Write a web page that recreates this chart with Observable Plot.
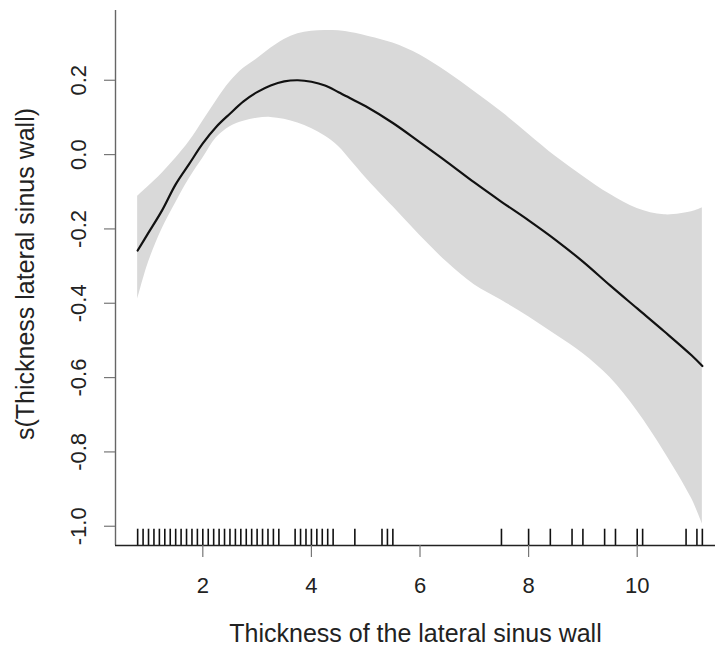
<!DOCTYPE html>
<html>
<head>
<meta charset="utf-8">
<script src="https://cdn.jsdelivr.net/npm/d3@7"></script>
<script src="https://cdn.jsdelivr.net/npm/@observablehq/plot@0.6"></script>
<style>
  html, body { margin: 0; padding: 0; background: #fff; }
  #chart svg { display: block; }
</style>
</head>
<body>
<div id="chart"></div>
<script>
// ---- data ----
const xs    = [0.8, 1.0, 1.25, 1.5, 1.75, 2.0, 2.25, 2.5, 2.75, 3.0, 3.25, 3.5, 3.75, 4.0, 4.25, 4.5, 4.75, 5.0, 5.5, 6.0, 6.5, 7.0, 7.5, 8.0, 8.5, 9.0, 9.5, 10.0, 10.5, 11.0, 11.2];
const fit   = [-0.258, -0.21, -0.15, -0.08, -0.025, 0.03, 0.075, 0.11, 0.143, 0.168, 0.186, 0.197, 0.2, 0.196, 0.186, 0.168, 0.149, 0.13, 0.085, 0.033, -0.02, -0.075, -0.127, -0.177, -0.23, -0.288, -0.352, -0.414, -0.476, -0.54, -0.569];
const upper = [-0.112, -0.085, -0.05, -0.01, 0.035, 0.09, 0.145, 0.195, 0.232, 0.258, 0.286, 0.31, 0.325, 0.332, 0.334, 0.333, 0.328, 0.32, 0.30, 0.268, 0.222, 0.17, 0.115, 0.055, -0.005, -0.058, -0.107, -0.145, -0.162, -0.154, -0.143];
const lower = [-0.39, -0.29, -0.2, -0.13, -0.065, -0.01, 0.045, 0.075, 0.09, 0.098, 0.1, 0.095, 0.085, 0.07, 0.05, 0.022, -0.02, -0.062, -0.14, -0.218, -0.29, -0.35, -0.392, -0.436, -0.485, -0.535, -0.6, -0.69, -0.8, -0.925, -0.994];
const rugValues = [0.8, 0.9, 1.0, 1.1, 1.2, 1.3, 1.4, 1.5, 1.6, 1.7, 1.8, 1.9, 2.0, 2.1, 2.2, 2.3, 2.4, 2.5, 2.6, 2.7, 2.8, 2.9, 3.0, 3.1, 3.2, 3.3, 3.4,
                   3.7, 3.8, 3.9, 4.0, 4.1, 4.2, 4.3, 4.4, 4.8, 5.3, 5.4, 5.5,
                   7.5, 8.0, 8.4, 8.8, 9.0, 9.4, 9.6, 10.0, 10.1, 10.9, 11.1, 11.2];
const xTicks = [2, 4, 6, 8, 10];
const yTicks = [-1.0, -0.8, -0.6, -0.4, -0.2, 0.0, 0.2];
const xTitle = "Thickness of the lateral sinus wall";
const yTitle = "s(Thickness lateral sinus wall)";

const xDomain = [0.392, 11.442];
const yDomain = [-1.0518, 0.3877];

const table = xs.map((x, i) => ({x, fit: fit[i], upper: upper[i], lower: lower[i]}));

const font = "'Liberation Sans', Arial, Helvetica, sans-serif";

const chart = Plot.plot({
  width: 716,
  height: 651,
  marginLeft: 115,
  marginRight: 1,
  marginTop: 10,
  marginBottom: 106,
  style: {fontFamily: font, background: "#fff"},
  x: {domain: xDomain, axis: null},
  y: {domain: yDomain, axis: null},
  marks: [
    Plot.areaY(table, {x: "x", y1: "lower", y2: "upper", fill: "#d9d9d9", curve: "catmull-rom"}),
    Plot.line(table, {x: "x", y: "fit", stroke: "#111", strokeWidth: 2.2, curve: "catmull-rom"}),
    // rug
    Plot.ruleX(rugValues, {x: d => d, y1: yDomain[0], y2: -1.008, stroke: "#111", strokeWidth: 1.6}),
    // axis lines
    Plot.ruleX([xDomain[0]], {y1: yDomain[0], y2: yDomain[1], stroke: "#666", strokeWidth: 1.4}),
    Plot.ruleY([yDomain[0]], {x1: xDomain[0], x2: xDomain[1], stroke: "#222", strokeWidth: 1.4}),
    // y ticks
    Plot.ruleY(yTicks, {y: d => d, x1: xDomain[0], x2: xDomain[0], insetLeft: -11, stroke: "#777", strokeWidth: 1.2}),
    Plot.text(yTicks, {x: xDomain[0], y: d => d, text: d => d.toFixed(1), rotate: -90, dx: -37, fontSize: 22, fill: "#222", textAnchor: "middle", lineAnchor: "middle"}),
    // x ticks
    Plot.ruleX(xTicks, {x: d => d, y1: yDomain[0], y2: yDomain[0], insetBottom: -12, stroke: "#777", strokeWidth: 1.2}),
    Plot.text(xTicks, {x: d => d, y: yDomain[0], text: d => String(d), dy: 40, fontSize: 22, fill: "#222", lineAnchor: "middle"}),
    // titles
    Plot.text([xTitle], {frameAnchor: "bottom", text: d => d, dy: 88, fontSize: 25, fill: "#222", textAnchor: "middle", lineAnchor: "middle"}),
    Plot.text([yTitle], {frameAnchor: "left", text: d => d, rotate: -90, dx: -90, dy: -4, fontSize: 25, fill: "#222", textAnchor: "middle", lineAnchor: "middle"})
  ]
});

document.getElementById("chart").appendChild(chart);
</script>
</body>
</html>
